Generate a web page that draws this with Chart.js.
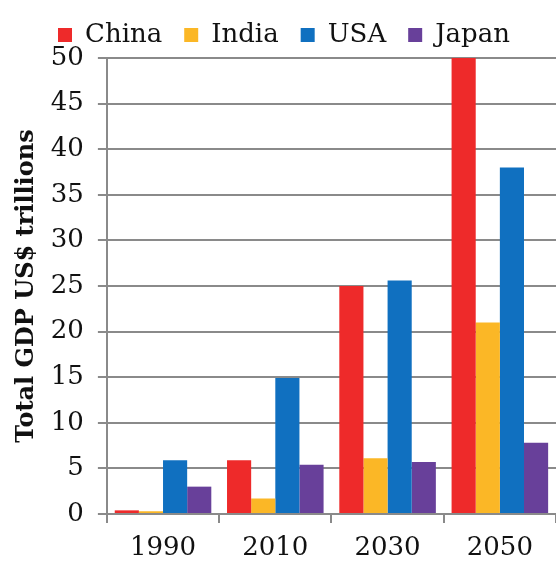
<!DOCTYPE html>
<html>
<head>
<meta charset="utf-8">
<script src="https://cdn.jsdelivr.net/npm/chart.js@4"></script>
<style>
  html, body { margin: 0; padding: 0; background: #fff; }
  #wrap { width: 556px; height: 565px; }
</style>
</head>
<body>
<div id="wrap"><canvas id="gdpChart"></canvas></div>
<script>
const years = ['1990', '2010', '2030', '2050'];
const china = [0.4, 5.9, 25, 50];
const india = [0.3, 1.7, 6.1, 21];
const usa = [5.9, 14.9, 25.6, 38];
const japan = [3.0, 5.4, 5.7, 7.8];
const yTicks = [0, 5, 10, 15, 20, 25, 30, 35, 40, 45, 50];

const font = 'DejaVu Serif';

function series(label, values, color) {
    return {
        label: label,
        data: values,
        backgroundColor: color,
        borderColor: color,
        borderWidth: 0
    };
}

const data = {
    labels: years,
    datasets: [
        series('China', china, '#ee2a2a'),
        series('India', india, '#fbb726'),
        series('USA', usa, '#1070c0'),
        series('Japan', japan, '#68409a')
    ]
};

const config = {
    type: 'bar',
    data: data,
    options: {
        responsive: true,
        maintainAspectRatio: false,
        animation: false,
        categoryPercentage: 0.86,
        barPercentage: 1.0,
        layout: { padding: { left: 12, right: 0, top: 0, bottom: -8 } },
        plugins: {
            tooltip: { enabled: false },
            legend: {
                position: 'top',
                labels: {
                    color: '#111',
                    font: { family: font, size: 26 },
                    boxWidth: 14,
                    boxHeight: 14,
                    padding: 22
                }
            }
        },
        scales: {
            x: {
                grid: {
                    display: true,
                    drawOnChartArea: false,
                    drawTicks: true,
                    tickLength: 9,
                    color: '#8a8a8a',
                    lineWidth: 2
                },
                border: { color: '#8a8a8a', width: 2 },
                ticks: {
                    color: '#111',
                    font: { family: font, size: 26, lineHeight: 1.0 },
                    padding: 12
                }
            },
            y: {
                min: 0,
                max: 50,
                afterBuildTicks: function (axis) {
                    axis.ticks = yTicks.map(function (v) { return { value: v }; });
                },
                grid: {
                    color: '#8a8a8a',
                    lineWidth: 2,
                    tickLength: 9
                },
                border: { color: '#8a8a8a', width: 2 },
                ticks: {
                    color: '#111',
                    font: { family: font, size: 26 },
                    padding: 14
                },
                title: {
                    display: true,
                    text: 'Total GDP US$ trillions',
                    color: '#111',
                    font: { family: font, size: 24, weight: 'bold' },
                    padding: { top: 0, bottom: -4 }
                }
            }
        }
    }
};

const myChart = new Chart(document.getElementById('gdpChart'), config);
</script>
</body>
</html>
